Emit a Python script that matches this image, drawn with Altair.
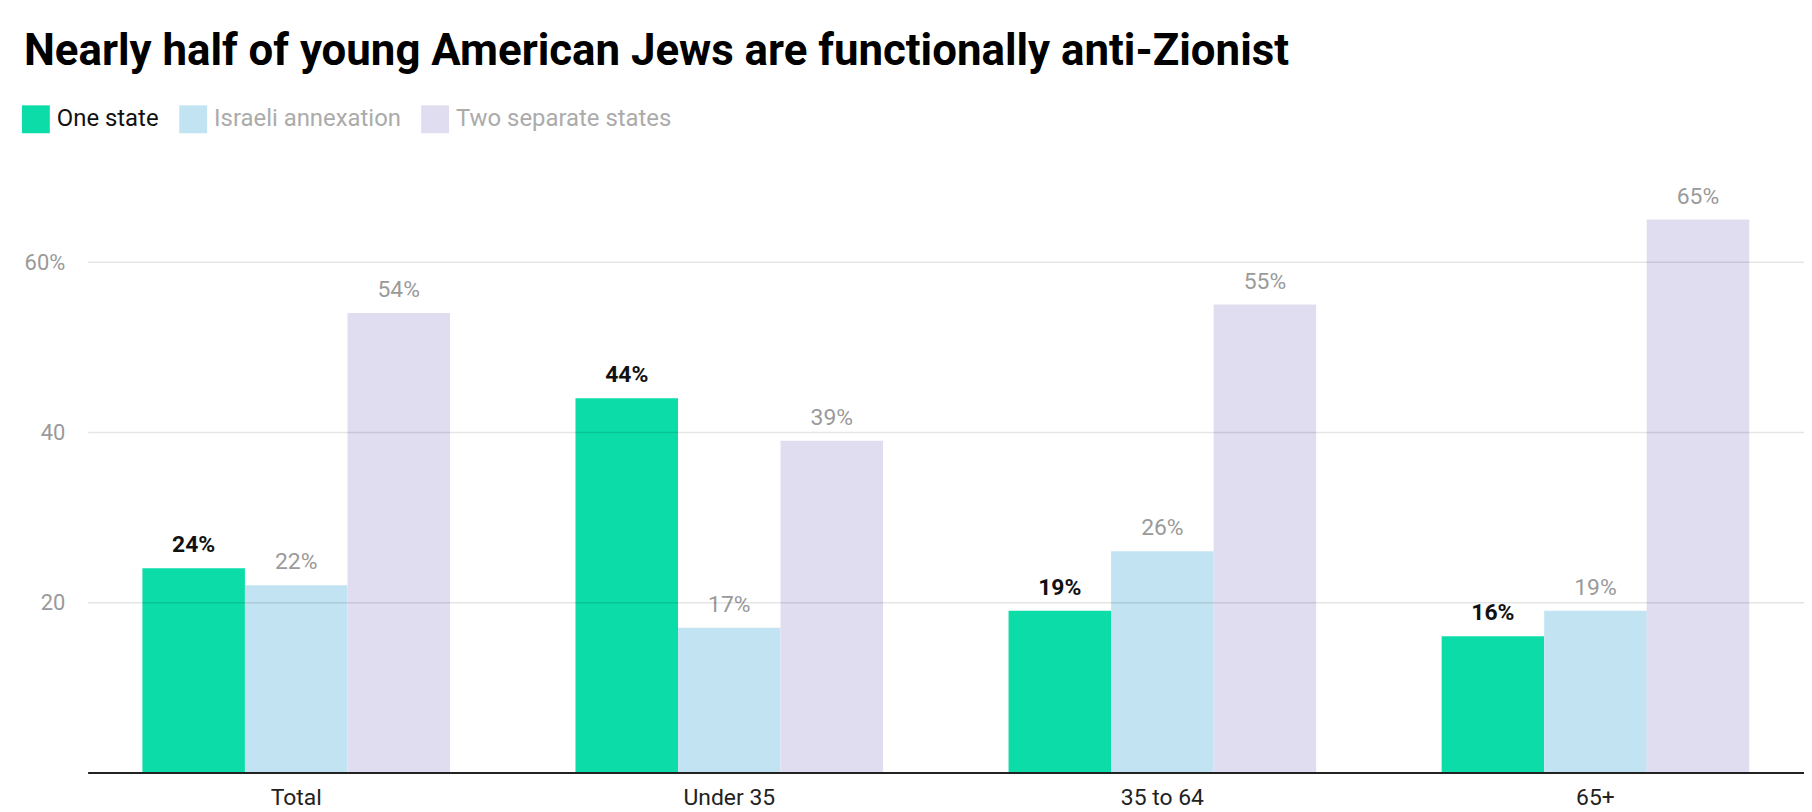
import altair as alt
import pandas as pd

categories = ["Total", "Under 35", "35 to 64", "65+"]
series = ["One state", "Israeli annexation", "Two separate states"]
one_state = [24, 44, 19, 16]
annexation = [22, 17, 26, 19]
two_states = [54, 39, 55, 65]
y_ticks = [0, 20, 40, 60]
colors = ["#0bdca8", "#c2e3f2", "#e1ddf0"]

rows = []
for vals, s in zip([one_state, annexation, two_states], series):
    for c, v in zip(categories, vals):
        rows.append({"group": c, "series": s, "value": v, "label": f"{v}%"})
df = pd.DataFrame(rows)

FONT = "Roboto"

base = alt.Chart(df).encode(
    x=alt.X(
        "group:N",
        sort=categories,
        scale=alt.Scale(paddingInner=0.2897, paddingOuter=0.1264),
        axis=alt.Axis(
            title=None,
            labelAngle=0,
            ticks=False,
            grid=False,
            domain=False,
            labelFont=FONT,
            labelFontSize=23,
            labelColor="#222222",
            labelPadding=14,
        ),
    ),
    xOffset=alt.XOffset(
        "series:N", sort=series, scale=alt.Scale(paddingInner=0, paddingOuter=0)
    ),
    y=alt.Y(
        "value:Q",
        scale=alt.Scale(domain=[0, 70], nice=False),
        axis=alt.Axis(
            title=None,
            values=y_ticks,
            labelExpr="datum.value == 0 ? '' : (datum.value == 60 ? '60%' : datum.label)",
            domain=False,
            ticks=False,
            grid=True,
            gridColor={"condition": {"test": "datum.value === 0", "value": "#222222"}, "value": "#000000"},
            gridOpacity={"condition": {"test": "datum.value === 0", "value": 1}, "value": 0.1},
            gridWidth={"condition": {"test": "datum.value === 0", "value": 2}, "value": 1.5},
            labelFont=FONT,
            labelFontSize=22,
            labelColor="#9a9a9a",
            labelPadding=23,
            zindex=1,
        ),
    ),
)

bars = base.mark_bar().encode(
    color=alt.Color(
        "series:N",
        sort=series,
        scale=alt.Scale(domain=series, range=colors),
        legend=alt.Legend(
            orient="none",
            legendX=-66,
            legendY=-72,
            direction="horizontal",
            title=None,
            symbolType="square",
            symbolSize=784,
            symbolStrokeWidth=0,
            symbolOpacity=1,
            labelFont=FONT,
            labelFontSize=24,
            labelLimit=500,
            labelColor=alt.ExprRef(expr="datum.label === 'One state' ? '#111111' : '#ababab'"),
            labelOffset=7,
            columnPadding=20,
        ),
    )
)

text_main = base.transform_filter(alt.datum.series == "One state").mark_text(
    baseline="alphabetic", dy=-16, font=FONT, fontSize=23, fontWeight="bold", color="#111111"
).encode(text="label:N")

text_other = base.transform_filter(alt.datum.series != "One state").mark_text(
    baseline="alphabetic", dy=-16, font=FONT, fontSize=23, color="#9a9a9a"
).encode(text="label:N")

chart = (
    alt.layer(bars, text_main, text_other)
    .properties(
        width=1724,
        height=598,
        title=alt.Title(
            "Nearly half of young American Jews are functionally anti-Zionist",
            anchor="start",
            font=FONT,
            fontSize=44,
            fontWeight="bold",
            color="#000000",
            dx=2,
            dy=39,
            baseline="alphabetic",
            offset=36,
        ),
        autosize=alt.AutoSizeParams(type="none"),
        padding={"left": 80, "top": 168, "right": 0, "bottom": 38},
    )
    .configure_view(stroke=None)
)

chart.save("out.html", embed_options={"renderer": "svg", "actions": False})
